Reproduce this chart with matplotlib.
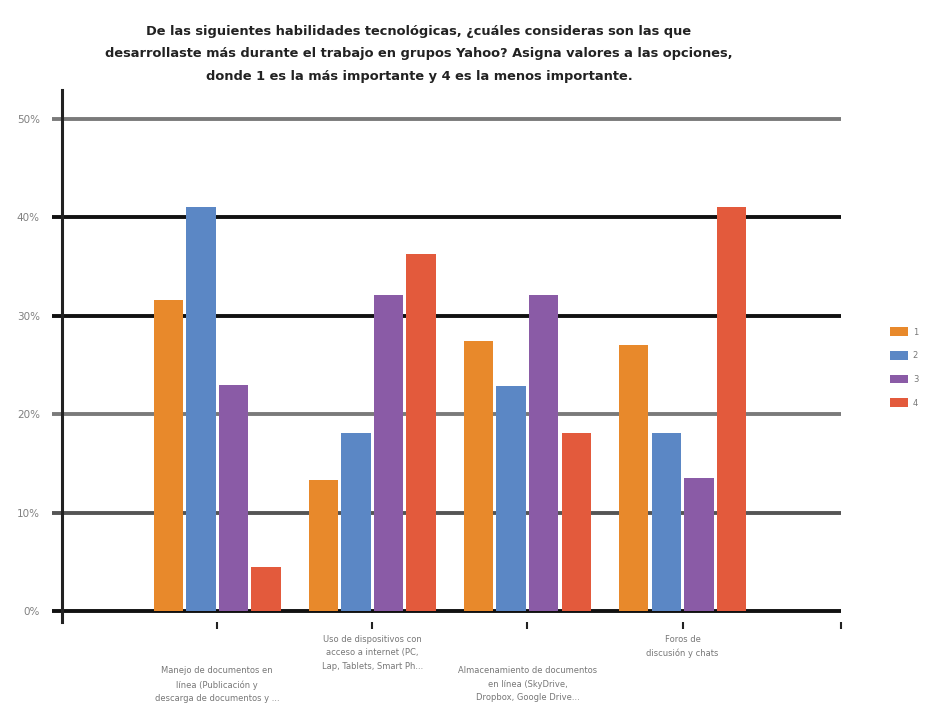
import matplotlib
matplotlib.use("Agg")
import matplotlib.pyplot as plt
from matplotlib.patches import Patch
from matplotlib.transforms import blended_transform_factory
import numpy as np

# survey answers: share of respondents per rank (1 = most important)
categories = [
    "Manejo de documentos en\nlínea (Publicación y\ndescarga de documentos y ...",
    "Uso de dispositivos con\nacceso a internet (PC,\nLap, Tablets, Smart Ph...",
    "Almacenamiento de documentos\nen línea (SkyDrive,\nDropbox, Google Drive...",
    "Foros de\ndiscusión y chats",
]
rank_labels = ["1", "2", "3", "4"]
rank_1 = [31.6, 13.3, 27.4, 27.0]
rank_2 = [41.0, 18.1, 22.9, 18.1]
rank_3 = [23.0, 32.1, 32.1, 13.5]
rank_4 = [4.5, 36.3, 18.1, 41.0]
y_ticks = [0, 10, 20, 30, 40, 50]
y_tick_labels = ["0%", "10%", "20%", "30%", "40%", "50%"]

title = ("De las siguientes habilidades tecnológicas, ¿cuáles consideras son las que\n"
         "desarrollaste más durante el trabajo en grupos Yahoo? Asigna valores a las opciones,\n"
         "donde 1 es la más importante y 4 es la menos importante.")

colors = ["#E8892B", "#5B87C5", "#8A5BA6", "#E35A3C"]
grid_colors = ["#111111", "#555555", "#7a7a7a", "#111111", "#111111", "#7a7a7a"]

fig = plt.figure(figsize=(9.26, 7.04), dpi=100)
ax = fig.add_axes([0.067, 0.1165, 0.841, 0.7557])

x = np.arange(1, len(categories) + 1)
series = [rank_1, rank_2, rank_3, rank_4]
step = 0.21
width = 0.19
for i, vals in enumerate(series):
    ax.bar(x + (i - 1.5) * step, vals, width=width, color=colors[i],
           edgecolor="none", zorder=3)

ax.set_xlim(0, 5.02)
ax.set_ylim(-1.1, 52.9)

# horizontal rules, slightly past the left axis
for yv, gc in zip(y_ticks, grid_colors):
    ax.plot([-0.065, 5.02], [yv, yv], color=gc, lw=2.8, zorder=1,
            clip_on=False, solid_capstyle="butt")

for s in ["top", "right", "bottom"]:
    ax.spines[s].set_visible(False)
ax.spines["left"].set_color("#222222")
ax.spines["left"].set_linewidth(2.2)
ax.spines["left"].set_zorder(4)

ax.set_yticks(y_ticks)
ax.set_yticklabels(y_tick_labels, fontsize=7.5, color="#808080")
ax.tick_params(axis="y", length=0, pad=16)

ax.set_xticks(list(x) + [5.02])
ax.set_xticklabels([])
ax.tick_params(axis="x", length=5, width=1.5, color="#222222")
ax.xaxis.set_ticks_position("bottom")

# staggered category labels
trans = blended_transform_factory(ax.transData, ax.transAxes)
for i, (xi, lab) in enumerate(zip(x, categories)):
    yy = -0.024 if i % 2 == 1 else -0.083
    ax.text(xi, yy, lab, transform=trans, ha="center", va="top",
            fontsize=6, color="#777777", linespacing=1.65)

fig.text(0.4525, 0.965, title, ha="center", va="top", fontsize=9.4,
         fontweight="bold", color="#222222", linespacing=1.95,
         family=["Liberation Sans Narrow", "DejaVu Sans"])

handles = [Patch(facecolor=c, edgecolor="none") for c in colors]
fig.legend(handles, rank_labels, loc="center left",
           bbox_to_anchor=(0.957, 0.478), frameon=False, fontsize=6,
           labelcolor="#777777", handlelength=2.2, handleheight=1.2,
           labelspacing=1.75, handletextpad=0.6, borderaxespad=0)

fig.savefig("out.png", dpi=100, facecolor="white")
